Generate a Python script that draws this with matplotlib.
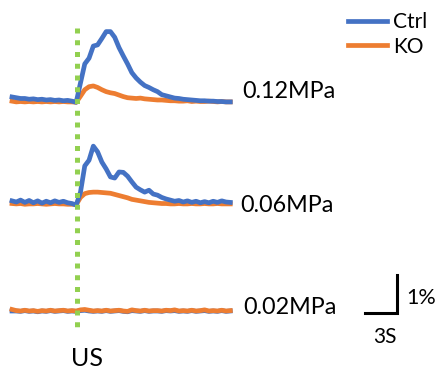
import numpy as np
import matplotlib
matplotlib.use('Agg')
import matplotlib.pyplot as plt

# time axis (s) and traces (% change)
t = np.arange(0, 20.5, 0.4)
us_time = 6.1

ctrl_012 = [0.08, 0.06, 0.04, 0.04, 0.02, 0.03, 0.01, 0.02, 0.0, 0.01,
            -0.01, 0.0, -0.02, -0.01, -0.03, -0.06, 0.45, 0.95, 1.1, 1.42,
            1.45, 1.62, 1.8, 1.8, 1.65, 1.38, 1.16, 0.95, 0.72, 0.58,
            0.47, 0.38, 0.33, 0.27, 0.22, 0.14, 0.11, 0.08, 0.05, 0.04,
            0.02, 0.01, 0.0, -0.01, -0.02, -0.02, -0.03, -0.03, -0.04, -0.04,
            -0.05, -0.05]
ko_012 = [-0.03, -0.05, -0.04, -0.05, -0.04, -0.05, -0.04, -0.05, -0.04, -0.05,
          -0.04, -0.05, -0.04, -0.05, -0.05, -0.06, 0.1, 0.27, 0.35, 0.37,
          0.33, 0.27, 0.22, 0.19, 0.17, 0.13, 0.09, 0.06, 0.05, 0.04,
          0.05, 0.03, 0.02, 0.01, 0.0, 0.0, -0.01, -0.02, -0.02, -0.03,
          -0.03, -0.02, -0.04, -0.03, -0.04, -0.04, -0.03, -0.04, -0.05, -0.04,
          -0.05, -0.05]

ctrl_006 = [0.03, 0.0, 0.05, -0.01, 0.04, -0.02, 0.03, -0.03, 0.02, -0.02,
            0.03, -0.01, 0.02, -0.02, -0.04, -0.08, 0.26, 0.95, 1.1, 1.47,
            1.32, 1.05, 0.87, 0.66, 0.63, 0.79, 0.78, 0.68, 0.53, 0.39,
            0.32, 0.26, 0.31, 0.21, 0.18, 0.12, 0.08, 0.05, 0.02, 0.04,
            0.0, 0.03, -0.01, 0.02, -0.02, 0.01, -0.02, 0.02, -0.01, 0.03,
            0.0, -0.01]
ko_006 = [-0.04, -0.05, -0.04, -0.06, -0.05, -0.05, -0.04, -0.05, -0.06, -0.05,
          -0.04, -0.05, -0.05, -0.06, -0.06, -0.07, 0.12, 0.22, 0.25, 0.26,
          0.26, 0.25, 0.24, 0.23, 0.2, 0.17, 0.14, 0.11, 0.07, 0.05,
          0.03, 0.01, -0.01, -0.02, -0.03, -0.04, -0.04, -0.05, -0.05, -0.04,
          -0.05, -0.05, -0.04, -0.05, -0.05, -0.04, -0.05, -0.05, -0.04, -0.05,
          -0.05, -0.05]

ctrl_002 = [0.0, 0.0, -0.01, 0.01, -0.01, 0.0, -0.02, 0.0, -0.01, 0.01,
            -0.01, 0.0, 0.01, -0.01, 0.0, -0.01, 0.01, 0.02, 0.0, -0.01,
            0.0, -0.01, 0.01, -0.01, 0.0, 0.01, -0.01, -0.02, 0.01, 0.0,
            -0.01, 0.01, -0.01, 0.0, 0.0, -0.01, 0.01, 0.0, 0.01, -0.01,
            0.0, -0.01, 0.01, -0.01, 0.0, 0.01, -0.01, 0.0, -0.01, 0.01,
            -0.01, 0.0]
ko_002 = [0.04, 0.01, 0.0, 0.02, 0.0, 0.01, -0.01, 0.01, 0.0, 0.02,
          0.0, 0.01, 0.02, 0.0, 0.01, 0.0, 0.03, 0.04, 0.02, 0.0,
          0.01, 0.0, 0.02, 0.0, 0.01, 0.02, 0.0, -0.01, 0.03, 0.01,
          0.0, 0.02, 0.0, 0.01, 0.01, 0.0, 0.02, 0.01, 0.03, 0.0,
          0.01, 0.0, 0.02, 0.0, 0.01, 0.03, 0.0, 0.01, 0.0, 0.02,
          0.0, 0.01]

pressures = ['0.12MPa', '0.06MPa', '0.02MPa']
ctrl = [ctrl_012, ctrl_006, ctrl_002]
ko = [ko_012, ko_006, ko_002]

blue = '#4472C4'
orange = '#ED7D31'
green = '#92D050'

# layout helpers: reference pixel -> data
px_per_s = 10.7
px_per_pct = 38.0
x0_px = 12
base_px = 311


def xd(px):
    return (px - x0_px) / px_per_s


def yd(py):
    return (base_px - py) / px_per_pct


offsets = [yd(100), yd(202), 0.0]
label_px = [(242, 92), (240, 205), (243, 308)]

plt.rcParams['font.family'] = ['Lato', 'DejaVu Sans']
fig = plt.figure(figsize=(4.44, 3.77), dpi=100)
ax = fig.add_axes([0, 0, 1, 1])
ax.set_xlim(xd(0), xd(444))
ax.set_ylim(yd(377), yd(0))
ax.axis('off')

ax.plot([us_time, us_time], [yd(28), yd(330)], color=green, lw=3.6,
        linestyle=(0, (1, 1.35)), zorder=5)

for i in range(3):
    off = offsets[i]
    zc, zk = (3, 2) if i < 2 else (2, 3)
    ax.plot(t, np.array(ctrl[i]) + off, color=blue, lw=3.4, zorder=zc,
            label='Ctrl' if i == 0 else None, solid_joinstyle='round')
    ax.plot(t, np.array(ko[i]) + off, color=orange, lw=3.4, zorder=zk,
            label='KO' if i == 0 else None, solid_joinstyle='round')
    lx, ly = label_px[i]
    ax.text(xd(lx), yd(ly), pressures[i], fontsize=16.8, ha='left', va='center')

ax.text(xd(87), yd(358), 'US', fontsize=18, ha='center', va='center')

# scale bar: 3 s x 1 %
sb_x = xd(397)
sb_y = yd(313)
ax.plot([sb_x - 3, sb_x, sb_x], [sb_y, sb_y, sb_y + 1], color='black', lw=2.2,
        solid_joinstyle='miter')
ax.text(xd(406), yd(298), '1%', fontsize=15.5, ha='left', va='center')
ax.text(xd(385), yd(337), '3S', fontsize=15, ha='center', va='center')

ax.legend(loc='upper left', bbox_to_anchor=(348 / 444, 1 - 12 / 377),
          bbox_transform=fig.transFigure, frameon=False, fontsize=15,
          handlelength=1.85, handletextpad=0.3, labelspacing=0.22,
          borderpad=0, borderaxespad=0)

fig.savefig('out.png', dpi=100)
